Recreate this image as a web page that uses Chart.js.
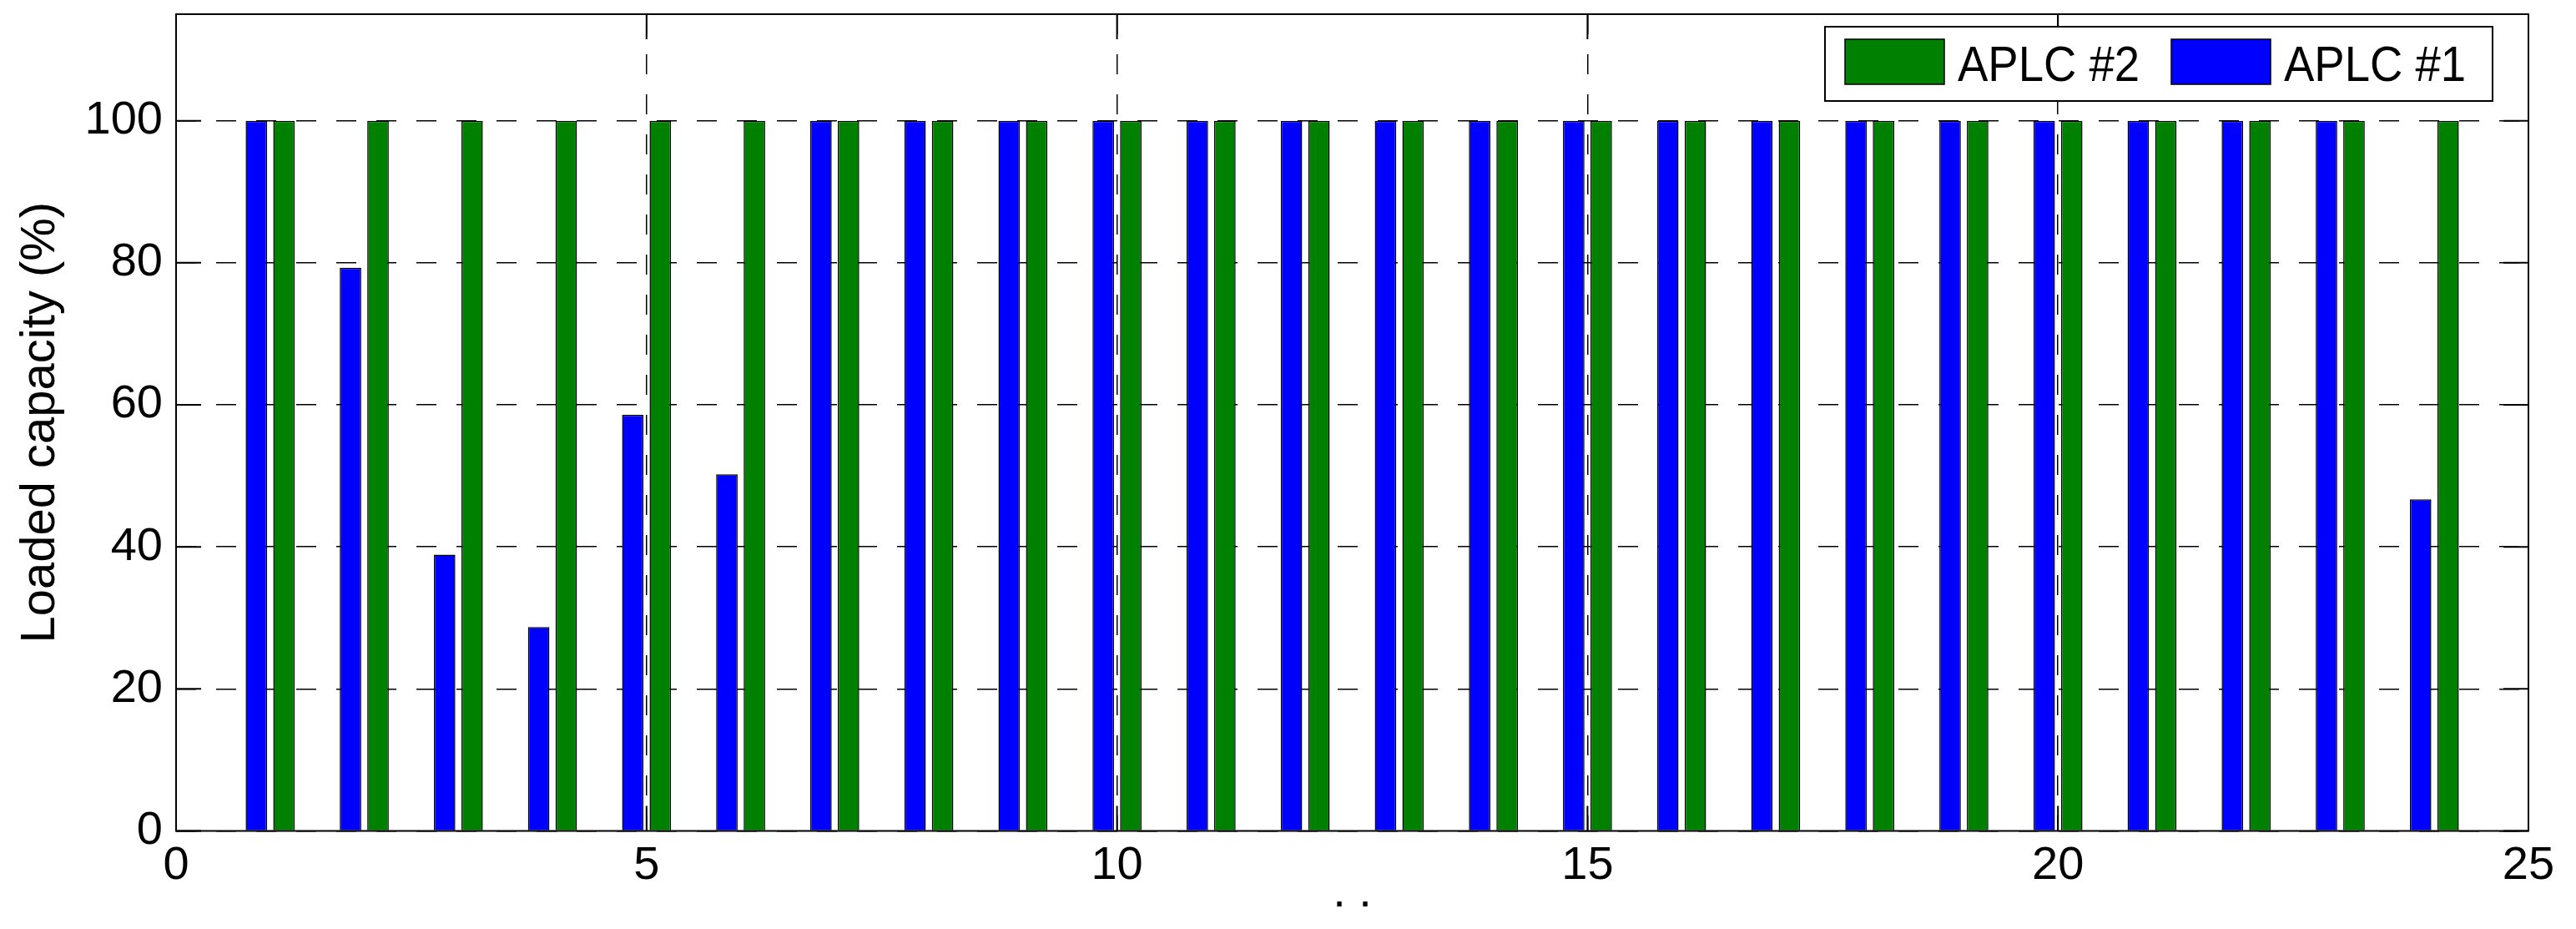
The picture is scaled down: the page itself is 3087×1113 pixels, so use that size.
<!DOCTYPE html>
<html>
<head>
<meta charset="utf-8">
<title>Loaded capacity</title>
<script src="https://cdn.jsdelivr.net/npm/chart.js@4.4.1/dist/chart.umd.min.js"></script>
<style>
  html, body { margin: 0; padding: 0; background: #fff; }
</style>
</head>
<body>
<canvas id="capacityChart" width="3087" height="1113"></canvas>
<script>
// x positions of the bar groups
const slots = [1, 2, 3, 4, 5, 6, 7, 8, 9, 10, 11, 12, 13, 14, 15, 16, 17, 18, 19, 20, 21, 22, 23, 24];
// loaded capacity (%) per APLC
const aplc1 = [100, 79.3, 38.9, 28.7, 58.6, 50.2, 100, 100, 100, 100, 100, 100,
               100, 100, 100, 100, 100, 100, 100, 100, 100, 100, 100, 46.7];
const aplc2 = [100, 100, 100, 100, 100, 100, 100, 100, 100, 100, 100, 100,
               100, 100, 100, 100, 100, 100, 100, 100, 100, 100, 100, 100];
const xTicks = [0, 5, 10, 15, 20, 25];
const yTicks = [0, 20, 40, 60, 80, 100];

const FONT = "'Liberation Sans', Arial, Helvetica, sans-serif";
Chart.defaults.font.family = FONT;
Chart.defaults.color = '#000';

// box around the axes + inward ticks on all four sides (matlab style)
const axesBox = {
  id: 'axesBox',
  afterDatasetsDraw(chart) {
    const { ctx, chartArea: a, scales } = chart;
    const len = 30;
    ctx.save();
    ctx.strokeStyle = '#000';
    ctx.lineWidth = 2;
    ctx.setLineDash([]);
    ctx.beginPath();
    xTicks.forEach(v => {
      const px = scales.x.getPixelForValue(v);
      ctx.moveTo(px, a.bottom); ctx.lineTo(px, a.bottom - len);
      ctx.moveTo(px, a.top); ctx.lineTo(px, a.top + len);
    });
    yTicks.forEach(v => {
      const py = scales.y.getPixelForValue(v);
      ctx.moveTo(a.left, py); ctx.lineTo(a.left + len, py);
      ctx.moveTo(a.right, py); ctx.lineTo(a.right - len, py);
    });
    ctx.stroke();
    ctx.strokeRect(a.left, a.top, a.right - a.left, a.bottom - a.top);
    ctx.restore();
  }
};

// boxed legend in the top right corner, entries in reverse order
const boxedLegend = {
  id: 'boxedLegend',
  afterDatasetsDraw(chart) {
    const { ctx, chartArea: a } = chart;
    const w = 800, h = 89;
    const x0 = a.right - 43 - w, y0 = a.top + 15;
    ctx.save();
    ctx.fillStyle = '#fff';
    ctx.fillRect(x0, y0, w, h);
    ctx.strokeStyle = '#000';
    ctx.lineWidth = 2;
    ctx.strokeRect(x0, y0, w, h);

    ctx.font = '60px ' + FONT;
    ctx.textBaseline = 'alphabetic';
    ctx.textAlign = 'left';
    let x = x0 + 24;
    chart.data.datasets.slice().reverse().forEach(ds => {
      ctx.fillStyle = ds.backgroundColor;
      ctx.fillRect(x, y0 + 15, 119, 54);
      ctx.lineWidth = 1.5;
      ctx.strokeRect(x, y0 + 15, 119, 54);
      x += 119 + 16;
      ctx.fillStyle = '#000';
      const tw = Math.min(ctx.measureText(ds.label).width, 218);
      ctx.fillText(ds.label, x, y0 + 65, 218);
      x += tw + 38;
    });
    ctx.restore();
  }
};

new Chart(document.getElementById('capacityChart'), {
  type: 'bar',
  data: {
    datasets: [
      {
        label: 'APLC #1',
        data: slots.map((s, i) => ({ x: s, y: aplc1[i] })),
        backgroundColor: '#0000ff',
        borderColor: '#000',
        borderWidth: 1.5
      },
      {
        label: 'APLC #2',
        data: slots.map((s, i) => ({ x: s, y: aplc2[i] })),
        backgroundColor: '#008000',
        borderColor: '#000',
        borderWidth: 1.5
      }
    ]
  },
  options: {
    responsive: false,
    animation: false,
    devicePixelRatio: 1,
    categoryPercentage: 0.585,
    barPercentage: 0.78,
    layout: { padding: { top: 17, right: 57, left: 0, bottom: 0 } },
    plugins: {
      legend: { display: false },
      tooltip: { enabled: false }
    },
    scales: {
      x: {
        type: 'linear',
        min: 0,
        max: 25,
        offset: false,
        afterBuildTicks: s => { s.ticks = xTicks.map(v => ({ value: v })); },
        afterFit: s => { s.height = 117.5; s.paddingLeft = 0; s.paddingRight = 0; },
        grid: { offset: false, color: '#000', lineWidth: 1.5, drawTicks: false },
        border: { display: false, dash: [24, 24] },
        ticks: { font: { size: 56 }, padding: 8, maxRotation: 0 },
        title: { display: true, text: '. .', font: { size: 56 }, padding: { top: 0, bottom: 9 } }
      },
      y: {
        min: 0,
        max: 115,
        afterBuildTicks: s => { s.ticks = yTicks.map(v => ({ value: v })); },
        afterFit: s => { s.width = 211; s.paddingTop = 0; s.paddingBottom = 0; },
        grid: { color: '#000', lineWidth: 1.5, drawTicks: false },
        border: { display: false, dash: [24, 24] },
        ticks: { font: { size: 56 }, padding: 16 },
        title: { display: true, text: 'Loaded capacity (%)', font: { size: 58 }, padding: { top: 14, bottom: 0 } }
      }
    }
  },
  plugins: [axesBox, boxedLegend]
});
</script>
</body>
</html>
